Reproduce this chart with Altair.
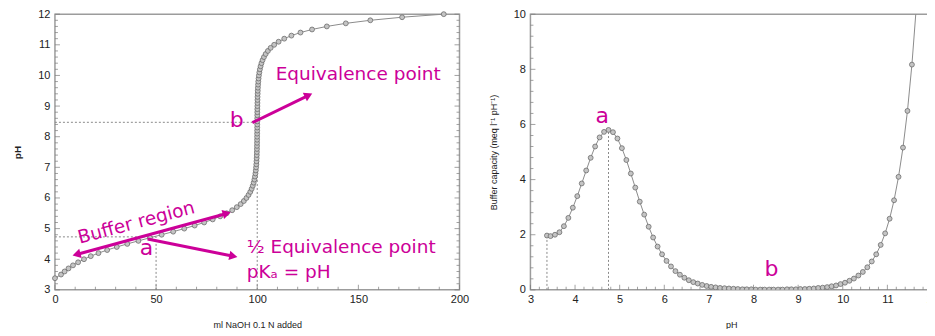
import math
import altair as alt
import pandas as pd

# ---------------- data ----------------
# Left panel: titration curve (ml NaOH 0.1 N added vs pH)
titr_ml = [0, 3.01, 4.77, 6.71, 8.92, 11.44, 14.35, 17.70, 21.51, 25.81,
           30.57, 35.75, 41.26, 46.97, 52.75, 58.45, 63.93, 69.06, 73.76, 77.98,
           81.68, 84.88, 87.61, 89.90, 91.81, 93.38, 94.67, 95.72, 96.57, 97.26,
           97.81, 98.25, 98.61, 98.89, 99.12, 99.30, 99.44, 99.56, 99.65, 99.72,
           99.78, 99.82, 99.86, 99.89, 99.91, 99.93, 99.95, 99.96, 99.98, 99.99,
           100.00, 100.01, 100.02, 100.03, 100.04, 100.05, 100.08, 100.10, 100.13, 100.16,
           100.21, 100.26, 100.33, 100.42, 100.52, 100.66, 100.83, 101.05, 101.32, 101.66,
           102.09, 102.64, 103.32, 104.18, 105.27, 106.64, 108.38, 110.58, 113.36, 116.90,
           121.38, 127.10, 134.41, 143.79, 155.90, 171.62, 192.22]
titr_ph = [3.38, 3.5, 3.6, 3.7, 3.8, 3.9, 4.0, 4.1, 4.2, 4.3,
           4.4, 4.5, 4.6, 4.7, 4.8, 4.9, 5.0, 5.1, 5.2, 5.3,
           5.4, 5.5, 5.6, 5.7, 5.8, 5.9, 6.0, 6.1, 6.2, 6.3,
           6.4, 6.5, 6.6, 6.7, 6.8, 6.9, 7.0, 7.1, 7.2, 7.3,
           7.4, 7.5, 7.6, 7.7, 7.8, 7.9, 8.0, 8.1, 8.2, 8.3,
           8.4, 8.5, 8.6, 8.7, 8.8, 8.9, 9.0, 9.1, 9.2, 9.3,
           9.4, 9.5, 9.6, 9.7, 9.8, 9.9, 10.0, 10.1, 10.2, 10.3,
           10.4, 10.5, 10.6, 10.7, 10.8, 10.9, 11.0, 11.1, 11.2, 11.3,
           11.4, 11.5, 11.6, 11.7, 11.8, 11.9, 12.0]

# Right panel: buffer capacity vs pH
buf_ph = [3.37, 3.45, 3.55, 3.65, 3.75, 3.85, 3.95, 4.05, 4.15, 4.25,
          4.35, 4.45, 4.55, 4.65, 4.75, 4.85, 4.95, 5.05, 5.15, 5.25,
          5.35, 5.45, 5.55, 5.65, 5.75, 5.85, 5.95, 6.05, 6.15, 6.25,
          6.35, 6.45, 6.55, 6.65, 6.75, 6.85, 6.95, 7.05, 7.15, 7.25,
          7.35, 7.45, 7.55, 7.65, 7.75, 7.85, 7.95, 8.05, 8.15, 8.25,
          8.35, 8.45, 8.55, 8.65, 8.75, 8.85, 8.95, 9.05, 9.15, 9.25,
          9.35, 9.45, 9.55, 9.65, 9.75, 9.85, 9.95, 10.05, 10.15, 10.25,
          10.35, 10.45, 10.55, 10.65, 10.75, 10.85, 10.95, 11.05, 11.15, 11.25,
          11.35, 11.45, 11.55, 11.65]
buf_beta = [1.97, 1.95, 2.00, 2.09, 2.31, 2.61, 2.98, 3.40, 3.86, 4.33,
            4.79, 5.20, 5.53, 5.73, 5.80, 5.72, 5.49, 5.14, 4.71, 4.22,
            3.71, 3.20, 2.73, 2.29, 1.90, 1.57, 1.29, 1.05, 0.85, 0.68,
            0.55, 0.44, 0.35, 0.28, 0.23, 0.18, 0.14, 0.11, 0.09, 0.07,
            0.06, 0.05, 0.04, 0.03, 0.02, 0.02, 0.02, 0.01, 0.01, 0.01,
            0.01, 0.01, 0.01, 0.01, 0.02, 0.02, 0.02, 0.03, 0.03, 0.04,
            0.05, 0.07, 0.08, 0.10, 0.13, 0.16, 0.21, 0.26, 0.33, 0.41,
            0.52, 0.65, 0.82, 1.03, 1.29, 1.63, 2.05, 2.58, 3.25, 4.10,
            5.16, 6.49, 8.17, 10.29]

# dotted guide lines (x, x2, y, y2)
left_guide_x = [0, 50, 0, 100]
left_guide_x2 = [50, 50, 100, 100]
left_guide_y = [4.73, 3, 8.47, 3]
left_guide_y2 = [4.73, 4.73, 8.47, 8.47]
right_guide_x = [3.37, 4.75]
right_guide_y2 = [1.97, 5.80]

# tick labels
left_x_labels = [0, 50, 100, 150, 200]
left_y_labels = [3, 4, 5, 6, 7, 8, 9, 10, 11, 12]
right_x_labels = [3, 4, 5, 6, 7, 8, 9, 10, 11, 12]
right_y_labels = [0, 2, 4, 6, 8, 10]

# annotations
left_text_left = ["Equivalence point", "½ Equivalence point", "pKₐ = pH"]
left_text_left_x = [109.1, 94.8, 94.8]
left_text_left_y = [10.06, 4.39, 3.58]
left_text_center = ["Buffer region", "a", "b"]
left_text_center_x = [40.2, 45.2, 89.9]
left_text_center_y = [5.2, 4.38, 8.55]
left_text_center_size = [18.5, 22, 22]
left_text_center_angle = [345, 0, 0]
right_text = ["a", "b"]
right_text_x = [4.61, 8.40]
right_text_y = [6.29, 0.76]

# arrows: start x, start y, tip x, tip y, head at start
arrow_x1 = [8.7, 45.8, 97.6]
arrow_y1 = [4.12, 4.66, 8.46]
arrow_x2 = [86.9, 90.2, 127.2]
arrow_y2 = [5.53, 4.07, 9.41]
arrow_head_start = [True, False, False]

# ---------------- styling ----------------
W_L, H_L = 405, 276
W_R, H_R = 402, 276
MAG = "#CC0099"
LINE = "#8c8c8c"
TICK = "#7a7a7a"
FONT = "Liberation Sans"
ANNOT_FONT = "DejaVu Sans"
PT_SIZE = 24

xL = alt.Scale(domain=[0, 200], nice=False, zero=False)
yL = alt.Scale(domain=[3, 12], nice=False, zero=False)
xR = alt.Scale(domain=[3, 12], nice=False, zero=False)
yR = alt.Scale(domain=[0, 10], nice=False, zero=False)


def x_axis(title, values):
    return alt.Axis(title=title, values=values, grid=False, ticks=False, domain=False,
                    labelFlush=False, labelOverlap=False,
                    labelFontSize=11, labelColor="#222", labelFont=FONT, labelPadding=4,
                    titleFont=FONT, titleFontSize=9, titleFontWeight="normal", titleColor="#222",
                    titlePadding=15, minExtent=16, maxExtent=16)


def y_axis(title, values, bold=False):
    return alt.Axis(title=title, values=values, grid=False, ticks=False, domain=False,
                    labelFlush=False, labelOverlap=False,
                    labelFontSize=11, labelColor="#222", labelFont=FONT, labelPadding=5,
                    titleFont=FONT, titleFontSize=10 if bold else 9,
                    titleFontWeight="bold" if bold else "normal", titleColor="#222",
                    titlePadding=13, minExtent=19, maxExtent=19)


axLx = x_axis("ml NaOH 0.1 N added", left_x_labels)
axLy = y_axis("pH", left_y_labels, bold=True)
axRx = x_axis("pH", right_x_labels)
axRy = y_axis("Buffer capacity (meq l⁻¹ pH⁻¹)", right_y_labels)


def inner_ticks(vals, scale, axis, channel, pos, size):
    df = pd.DataFrame({"v": vals})
    if channel == "y":
        return alt.Chart(df).mark_tick(orient="horizontal", color=TICK, thickness=1, size=size).encode(
            y=alt.Y("v:Q", scale=scale, axis=axis), x=alt.value(pos))
    return alt.Chart(df).mark_tick(orient="vertical", color=TICK, thickness=1, size=size).encode(
        x=alt.X("v:Q", scale=scale, axis=axis), y=alt.value(pos))


def tick_set(xmaj, xmin, ymaj, ymin, xs, ys, axx, axy, W, H):
    return [
        inner_ticks(ymaj, ys, axy, "y", 2.5, 5), inner_ticks(ymin, ys, axy, "y", 1.5, 3),
        inner_ticks(ymaj, ys, axy, "y", W - 2.5, 5), inner_ticks(ymin, ys, axy, "y", W - 1.5, 3),
        inner_ticks(xmaj, xs, axx, "x", H - 2.5, 5), inner_ticks(xmin, xs, axx, "x", H - 1.5, 3),
    ]


def minor(lo, hi, step, majors):
    out, k = [], 0
    while True:
        v = round(lo + k * step, 4)
        if v > hi + 1e-9:
            break
        if all(abs(v - m) > 1e-6 for m in majors):
            out.append(v)
        k += 1
    return out


# ---------------- left panel ----------------
titr = pd.DataFrame({"ml": titr_ml, "ph": titr_ph, "i": range(len(titr_ml))})
gL = pd.DataFrame({"x": left_guide_x, "x2": left_guide_x2, "y": left_guide_y, "y2": left_guide_y2})

XL = alt.X("ml:Q", scale=xL, axis=axLx)
YL = alt.Y("ph:Q", scale=yL, axis=axLy)

guidesL = alt.Chart(gL).mark_rule(color="#8a8a8a", strokeDash=[2, 2], strokeWidth=1).encode(
    x=alt.X("x:Q", scale=xL, axis=axLx), x2="x2:Q",
    y=alt.Y("y:Q", scale=yL, axis=axLy), y2="y2:Q")
lineL = alt.Chart(titr).mark_line(color=LINE, strokeWidth=1).encode(x=XL, y=YL, order="i:Q")
ptsL = alt.Chart(titr).mark_point(shape="circle", filled=True, fill="#c4c4c4", stroke="#6c6c6c",
                                  strokeWidth=0.8, size=PT_SIZE, opacity=1).encode(x=XL, y=YL)

# arrows
sx, sy = W_L / 200.0, H_L / 9.0
HEAD = 90
h = math.sqrt(HEAD) / 2 * math.sqrt(3) / 2
seg_rows, head_rows = [], []
for k in range(len(arrow_x1)):
    x1, y1, x2, y2 = arrow_x1[k], arrow_y1[k], arrow_x2[k], arrow_y2[k]
    dxp, dyp = (x2 - x1) * sx, -(y2 - y1) * sy
    L = math.hypot(dxp, dyp)
    ux, uy = dxp / L, dyp / L
    ang_end = math.degrees(math.atan2(ux, -uy)) % 360
    ex, ey = x2 - h * ux / sx, y2 + h * uy / sy
    head_rows.append({"ml": ex, "ph": ey, "ang": ang_end})
    if arrow_head_start[k]:
        sxx, syy = x1 + h * ux / sx, y1 - h * uy / sy
        head_rows.append({"ml": sxx, "ph": syy, "ang": (ang_end + 180) % 360})
    else:
        sxx, syy = x1, y1
    seg_rows.append({"ml": sxx, "ph": syy, "id": k, "o": 0})
    seg_rows.append({"ml": ex, "ph": ey, "id": k, "o": 1})

arrow_lines = alt.Chart(pd.DataFrame(seg_rows)).mark_line(color=MAG, strokeWidth=3).encode(
    x=XL, y=YL, detail="id:N", order="o:Q")
arrow_heads = alt.Chart(pd.DataFrame(head_rows)).mark_point(
    shape="triangle-up", filled=True, color=MAG, size=HEAD, opacity=1).encode(
    x=XL, y=YL, angle=alt.Angle("ang:Q", scale=None))

tl = pd.DataFrame({"t": left_text_left, "ml": left_text_left_x, "ph": left_text_left_y})
textL1 = alt.Chart(tl).mark_text(align="left", baseline="middle", font=ANNOT_FONT, fontSize=18.5,
                                 color=MAG).encode(x=XL, y=YL, text="t:N")
tc = pd.DataFrame({"t": left_text_center, "ml": left_text_center_x, "ph": left_text_center_y,
                   "fs": left_text_center_size, "ang": left_text_center_angle})
textL2 = alt.Chart(tc).mark_text(align="center", baseline="middle", font=ANNOT_FONT,
                                 color=MAG).encode(
    x=XL, y=YL, text="t:N", size=alt.Size("fs:Q", scale=None),
    angle=alt.Angle("ang:Q", scale=None))

ticksL = tick_set(left_x_labels, minor(0, 200, 10, left_x_labels),
                  left_y_labels, minor(3, 12, 0.2, left_y_labels), xL, yL, axLx, axLy, W_L, H_L)

left = alt.layer(guidesL, *ticksL, lineL, ptsL, arrow_lines, arrow_heads, textL1, textL2).properties(
    width=W_L, height=H_L)

# ---------------- right panel ----------------
buf = pd.DataFrame({"ph": buf_ph, "b": buf_beta, "i": range(len(buf_ph))})
gR = pd.DataFrame({"x": right_guide_x, "y": [0] * len(right_guide_x), "y2": right_guide_y2})
XR = alt.X("ph:Q", scale=xR, axis=axRx)
YR = alt.Y("b:Q", scale=yR, axis=axRy)

guidesR = alt.Chart(gR).mark_rule(color="#8a8a8a", strokeDash=[2, 2], strokeWidth=1).encode(
    x=alt.X("x:Q", scale=xR, axis=axRx), y=alt.Y("y:Q", scale=yR, axis=axRy), y2="y2:Q")
lineR = alt.Chart(buf).mark_line(color=LINE, strokeWidth=1, clip=True).encode(x=XR, y=YR, order="i:Q")
ptsR = alt.Chart(buf).mark_point(shape="circle", filled=True, fill="#c4c4c4", stroke="#6c6c6c",
                                 strokeWidth=0.8, size=PT_SIZE, opacity=1, clip=True).encode(x=XR, y=YR)
tr = pd.DataFrame({"t": right_text, "ph": right_text_x, "b": right_text_y})
textR = alt.Chart(tr).mark_text(align="center", baseline="middle", font=ANNOT_FONT, fontSize=22,
                                color=MAG).encode(x=XR, y=YR, text="t:N")
ticksR = tick_set(right_x_labels, minor(3, 12, 0.2, right_x_labels),
                  right_y_labels, minor(0, 10, 0.4, right_y_labels), xR, yR, axRx, axRy, W_R, H_R)

right = alt.layer(guidesR, *ticksR, lineR, ptsR, textR).properties(width=W_R, height=H_R)

chart = alt.hconcat(left, right, spacing=71, bounds="flush").properties(
    padding={"left": 4, "top": -1, "right": -12, "bottom": -2}
).configure_view(stroke="#9c9c9c", strokeWidth=1.5)

chart.save("out.html", embed_options={"renderer": "svg", "actions": False})
